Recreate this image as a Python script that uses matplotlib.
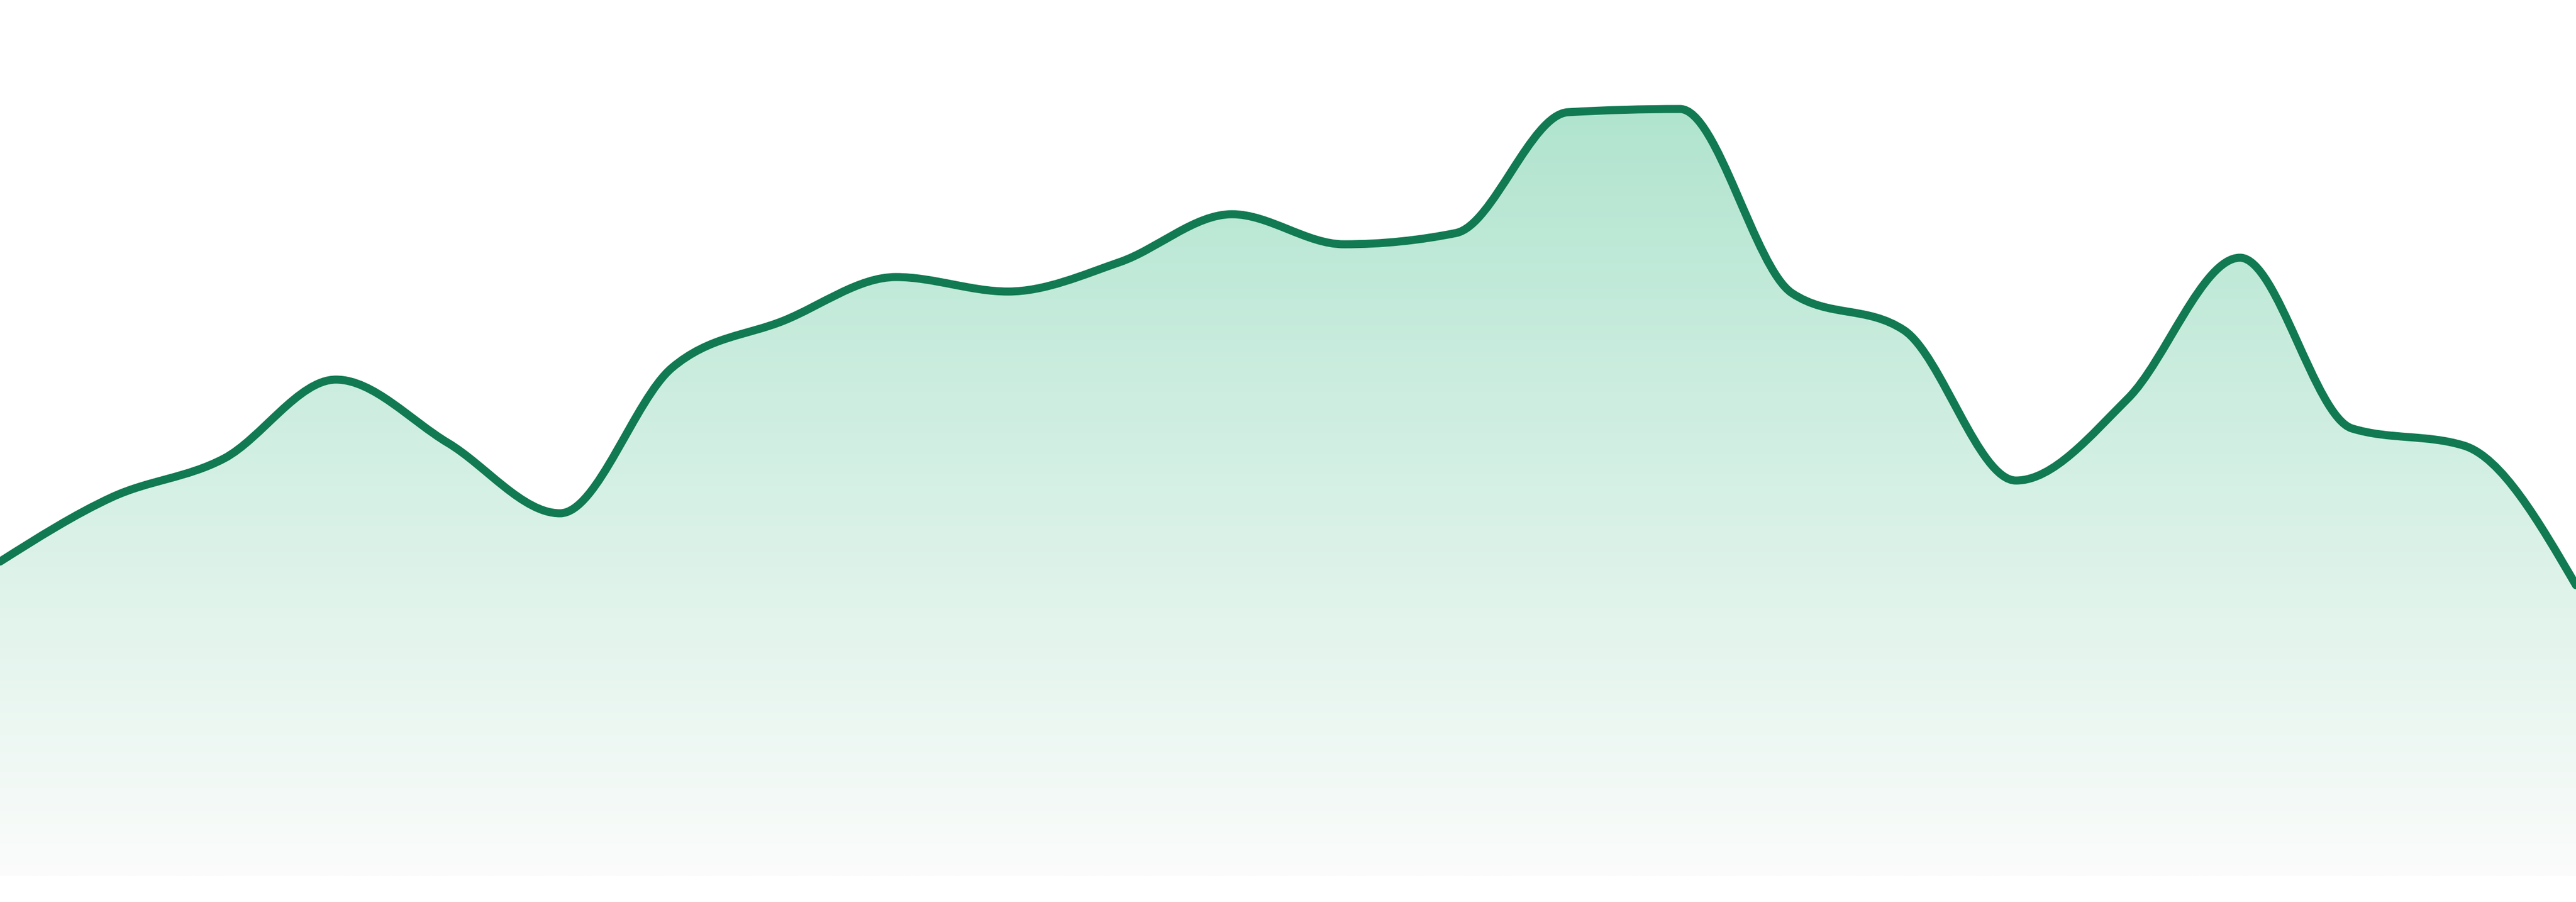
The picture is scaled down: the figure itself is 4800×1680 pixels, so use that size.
import numpy as np
import matplotlib
matplotlib.use("Agg")
import matplotlib.pyplot as plt
from matplotlib.path import Path
from matplotlib.patches import PathPatch

# ---- data ----
idx = list(range(24))
values = [58.6, 70.6, 77.8, 92.5, 80.7, 67.6, 94.7, 103.5, 111.6, 108.9,
          114.4, 123.3, 117.7, 119.8, 142.3, 142.9, 108.6, 101.7, 73.7, 89.0,
          115.2, 83.4, 80.2, 54.2]

line_color = "#117a52"
grad_top = (166/255, 225/255, 201/255)
grad_bottom = (251/255, 252/255, 251/255)


def monotone_tangents(x, y):
    x = np.asarray(x, float); y = np.asarray(y, float)
    n = len(x)
    t = np.zeros(n)
    for i in range(1, n - 1):
        h0 = x[i] - x[i-1]; h1 = x[i+1] - x[i]
        s0 = (y[i] - y[i-1]) / h0; s1 = (y[i+1] - y[i]) / h1
        p = (s0 * h1 + s1 * h0) / (h0 + h1)
        t[i] = (np.sign(s0) + np.sign(s1)) * min(abs(s0), abs(s1), 0.5 * abs(p))
    h = x[1] - x[0]
    t[0] = (3 * (y[1] - y[0]) / h - t[1]) / 2
    h = x[-1] - x[-2]
    t[-1] = (3 * (y[-1] - y[-2]) / h - t[-2]) / 2
    return t


def monotone_path_vertices(x, y):
    t = monotone_tangents(x, y)
    verts = [(x[0], y[0])]
    codes = [Path.MOVETO]
    for i in range(len(x) - 1):
        dx = (x[i+1] - x[i]) / 3
        verts += [(x[i] + dx, y[i] + dx * t[i]),
                  (x[i+1] - dx, y[i+1] - dx * t[i+1]),
                  (x[i+1], y[i+1])]
        codes += [Path.CURVE4] * 3
    return verts, codes


fig = plt.figure(figsize=(16, 5.6), dpi=300)
ax = fig.add_axes([0, 0, 1, 1])
ax.set_xlim(idx[0], idx[-1])
ymin, ymax = -4.8, 163.2
ax.set_ylim(ymin, ymax)
ax.axis("off")

verts, codes = monotone_path_vertices(idx, values)

# fill path
fverts = list(verts) + [(idx[-1], 0), (idx[0], 0), (idx[0], values[0])]
fcodes = list(codes) + [Path.LINETO, Path.LINETO, Path.CLOSEPOLY]
fill_patch = PathPatch(Path(fverts, fcodes), facecolor="none", edgecolor="none")
ax.add_patch(fill_patch)

# vertical gradient clipped by fill
n = 512
g = np.linspace(0, 1, n)[:, None]
top = np.array(grad_top); bot = np.array(grad_bottom)
img = top[None, None, :] * (1 - g[:, :, None]) + bot[None, None, :] * g[:, :, None]
img = np.repeat(img, 2, axis=1)
im = ax.imshow(img, extent=[idx[0], idx[-1], 0, ymax], origin="upper",
               aspect="auto", interpolation="bilinear", zorder=1)
im.set_clip_path(fill_patch)

line_patch = PathPatch(Path(verts, codes), facecolor="none", edgecolor=line_color,
                       linewidth=3.6, capstyle="round", joinstyle="round", zorder=3)
line_patch.set_clip_on(False)
ax.add_patch(line_patch)

fig.savefig("out.png", dpi=300, facecolor="white")
